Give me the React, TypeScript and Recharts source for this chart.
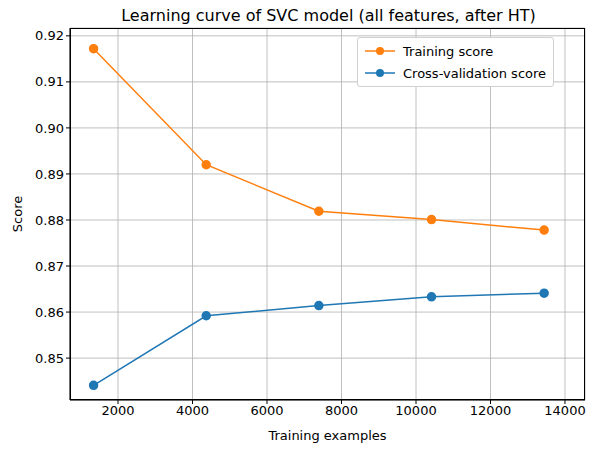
import { LineChart, Line, XAxis, YAxis, CartesianGrid } from "recharts";

const trainSizes = [1344, 4368, 7392, 10416, 13440];
const trainScores = [0.9172, 0.892, 0.8819, 0.8801, 0.8778];
const cvScores = [0.8441, 0.8592, 0.8614, 0.8633, 0.8641];
const xTicks = [2000, 4000, 6000, 8000, 10000, 12000, 14000];
const yTicks = [0.85, 0.86, 0.87, 0.88, 0.89, 0.9, 0.91, 0.92];
const seriesNames = ["Training score", "Cross-validation score"];
const seriesColors = ["#ff7f0e", "#1f77b4"];

const data = trainSizes.map((x, i) => ({ x, train: trainScores[i], cv: cvScores[i] }));

const font = "DejaVu Sans, sans-serif";

function LegendBox() {
  return (
    <div
      style={{
        position: "absolute",
        left: 357,
        top: 37,
        border: "1px solid #d0d0d0",
        borderRadius: 3,
        background: "white",
        padding: "2px 7px",
        fontFamily: font,
        fontSize: 13,
      }}
    >
      {seriesNames.map((name, i) => (
        <div key={name} style={{ display: "flex", alignItems: "center", height: 22 }}>
          <svg width={30} height={12} style={{ marginRight: 8 }}>
            <line x1={0} y1={6} x2={30} y2={6} stroke={seriesColors[i]} strokeWidth={1.5} />
            <circle cx={15} cy={6} r={4} fill={seriesColors[i]} />
          </svg>
          {name}
        </div>
      ))}
    </div>
  );
}

export default function App() {
  return (
    <div style={{ position: "absolute", left: 0, top: 0, width: 597, height: 455, background: "white", fontFamily: font }}>
      <div style={{ position: "absolute", top: 6, width: 597, left: 30, textAlign: "center", fontSize: 16 }}>
        Learning curve of SVC model (all features, after HT)
      </div>
      <div style={{ position: "absolute", top: 428, width: 515, left: 70, textAlign: "center", fontSize: 13 }}>
        Training examples
      </div>
      <div
        style={{
          position: "absolute",
          left: 17,
          top: 214,
          fontSize: 13,
          transform: "translate(-50%, -50%) rotate(-90deg)",
        }}
      >
        Score
      </div>
      <LineChart
        width={597}
        height={455}
        data={data}
        margin={{ top: 28, right: 12, bottom: 25, left: 10 }}
      >
        <CartesianGrid stroke="#b0b0b0" strokeWidth={0.8} />
        <XAxis
          dataKey="x"
          type="number"
          domain={[711, 14537]}
          ticks={xTicks}
          height={30}
          stroke="#000"
          tick={{ fill: "#000", fontSize: 13, fontFamily: font }}
          tickSize={4}
        />
        <YAxis
          type="number"
          domain={[0.8409, 0.9217]}
          ticks={yTicks}
          width={60}
          stroke="#000"
          tickFormatter={(v: number) => v.toFixed(2)}
          tick={{ fill: "#000", fontSize: 13, fontFamily: font }}
          tickSize={4}
          allowDataOverflow
        />
        <Line
          dataKey="train"
          stroke={seriesColors[0]}
          strokeWidth={1.5}
          dot={{ r: 4, fill: seriesColors[0], stroke: seriesColors[0] }}
          isAnimationActive={false}
        />
        <Line
          dataKey="cv"
          stroke={seriesColors[1]}
          strokeWidth={1.5}
          dot={{ r: 4, fill: seriesColors[1], stroke: seriesColors[1] }}
          isAnimationActive={false}
        />
      </LineChart>
      <LegendBox />
      <div
        style={{
          position: "absolute",
          left: 70,
          top: 28,
          width: 515,
          height: 372,
          boxSizing: "border-box",
          border: "1px solid #000",
          pointerEvents: "none",
        }}
      />
    </div>
  );
}
